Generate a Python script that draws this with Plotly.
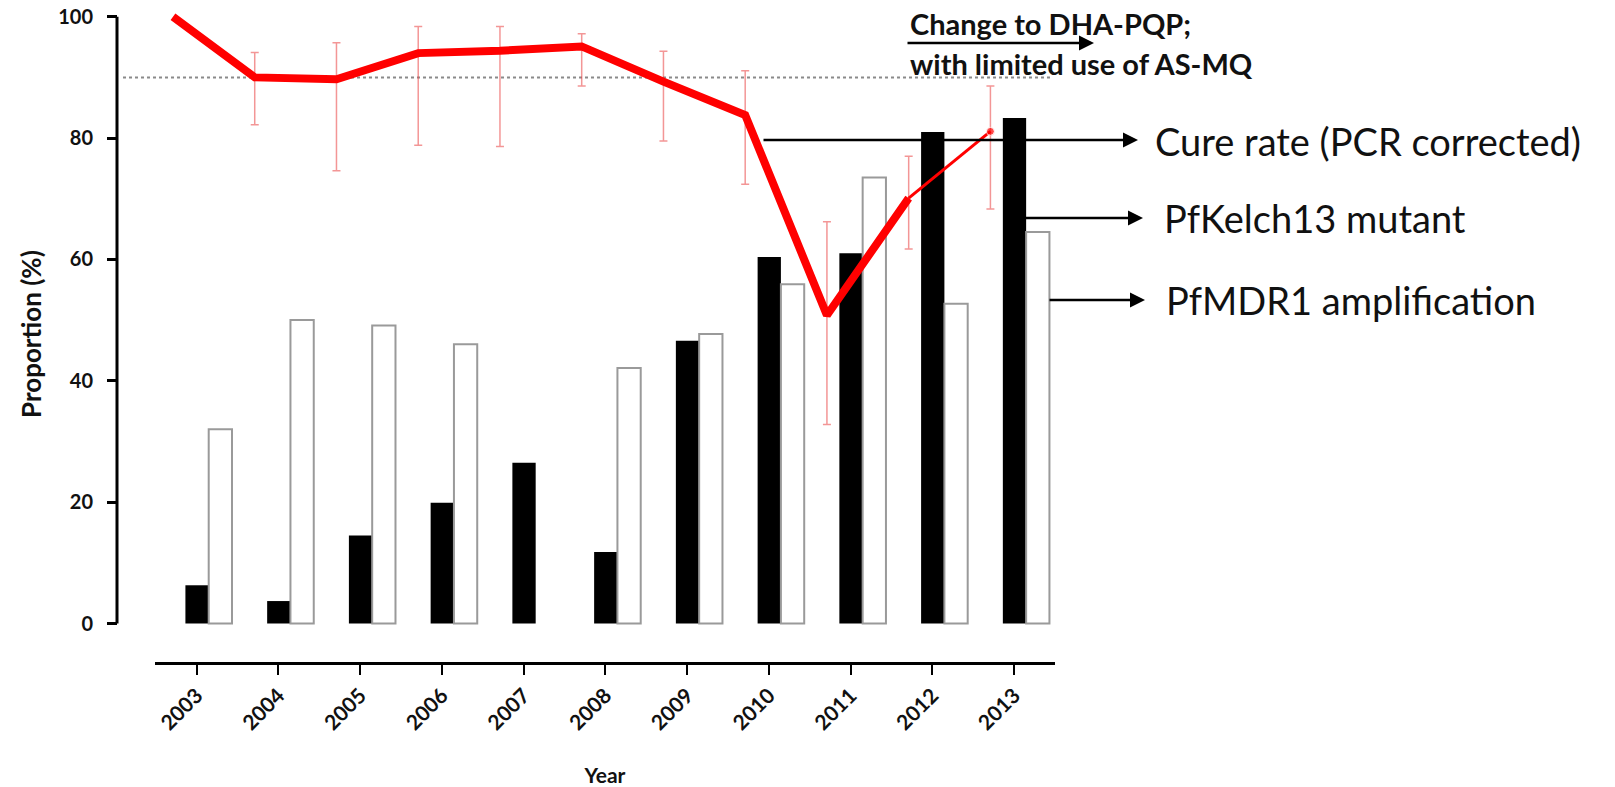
import plotly.graph_objects as go

# ---------------- data ----------------
years = [2003, 2004, 2005, 2006, 2007, 2008, 2009, 2010, 2011, 2012, 2013]
year_labels = [str(y) for y in years]

kelch13_mutant = [6.3, 3.7, 14.5, 19.9, 26.5, 11.8, 46.6, 60.4, 61.0, 81.0, 83.3]
mdr1_amplification = [32.0, 50.0, 49.1, 46.0, None, 42.1, 47.7, 55.9, 73.5, 52.7, 64.5]

cure_rate = [100.0, 90.0, 89.7, 94.0, 94.4, 95.1, 89.3, 83.8, 50.8, 70.1, 81.1]
cure_ci_low = [None, 82.2, 74.6, 78.8, 78.6, 88.6, 79.5, 72.4, 32.8, 61.7, 68.3]
cure_ci_high = [None, 94.1, 95.7, 98.4, 98.4, 97.2, 94.3, 91.1, 66.2, 77.0, 88.6]

threshold = 90
y_ticks = [0, 20, 40, 60, 80, 100]

# ---------------- geometry (page pixels -> paper) ----------------
W, H = 1615, 787
L = 117                      # y axis at x=117
PLOT_BOTTOM = 662            # x axis line at y=662
T = 4
R = W - 1055                 # x axis ends at x=1055
B = H - PLOT_BOTTOM
PW, PH = W - L - R, H - T - B


def px(xp):
    return (xp - L) / PW


def py(yp):
    return (PLOT_BOTTOM - yp) / PH


y0_px, y100_px = 623.5, 16.7
unit = (y0_px - y100_px) / 100.0
y_top = (y0_px - T) / unit
y_bot = -(PLOT_BOTTOM - y0_px) / unit

x_range = [2002.49, 2013.50]
line_shift = 0.29          # cure-rate line drawn slightly left of ticks
bar_w = 0.285
bar_center_shift = 0.147   # bar pairs drawn slightly right of ticks

FONT = "Lato"
INK = "#111111"

fig = go.Figure()

fig.add_trace(go.Bar(
    x=years, y=kelch13_mutant, name="PfKelch13 mutant",
    width=bar_w, offset=bar_center_shift - bar_w,
    marker=dict(color="black", line=dict(color="black", width=0)),
    xaxis="x", yaxis="y",
))
fig.add_trace(go.Bar(
    x=years, y=mdr1_amplification, name="PfMDR1 amplification",
    width=bar_w, offset=bar_center_shift,
    marker=dict(color="white", line=dict(color="#9a9a9a", width=2)),
    xaxis="x", yaxis="y",
))

# error bars (95% CI) for cure rate
err_plus = [None if h is None else h - c for h, c in zip(cure_ci_high, cure_rate)]
err_minus = [None if l is None else c - l for l, c in zip(cure_ci_low, cure_rate)]
fig.add_trace(go.Scatter(
    x=years[1:], y=cure_rate[1:], mode="markers",
    marker=dict(size=1, color="rgba(0,0,0,0)"),
    error_y=dict(type="data", symmetric=False, array=err_plus[1:], arrayminus=err_minus[1:],
                 color="rgba(235,80,80,0.6)", thickness=1.5, width=4),
    xaxis="x2", yaxis="y", hoverinfo="skip",
))

# cure rate line: thick up to 2012, thin for the last segment
fig.add_trace(go.Scatter(
    x=years[:10], y=cure_rate[:10], mode="lines", name="Cure rate (PCR corrected)",
    line=dict(color="#ff0000", width=8), xaxis="x2", yaxis="y",
))
fig.add_trace(go.Scatter(
    x=years[9:], y=cure_rate[9:], mode="lines+markers",
    line=dict(color="#ff0000", width=3), marker=dict(size=[0, 8], color="#ff0000"),
    xaxis="x2", yaxis="y",
))

x_dom = [px(155), 1.0]

fig.update_layout(
    width=W, height=H, template="none",
    margin=dict(l=L, r=R, t=T, b=B, pad=0),
    paper_bgcolor="white", plot_bgcolor="white",
    showlegend=False,
    font=dict(family=FONT, color=INK),
    xaxis=dict(
        domain=x_dom, range=x_range, anchor="y", showgrid=False, zeroline=False, automargin=False,
        showline=True, linecolor="black", linewidth=3,
        ticks="outside", ticklen=10, tickwidth=2, tickcolor="black",
        tickmode="array", tickvals=years, ticktext=year_labels, tickangle=-45,
        ticklabelstandoff=0, ticklabeloverflow="allow",
        tickfont=dict(family=FONT, size=21, color=INK, weight="bold"),
        title=dict(text="<b>Year</b>", font=dict(family=FONT, size=21, color=INK), standoff=35),
    ),
    xaxis2=dict(domain=x_dom, range=[x_range[0] + line_shift, x_range[1] + line_shift],
                overlaying="x", anchor="y", visible=False, showgrid=False, zeroline=False),
    yaxis=dict(
        domain=[0, 1], range=[y_bot, y_top], anchor="free", position=0,
        showgrid=False, zeroline=False, showline=False, automargin=False,
        ticks="outside", ticklen=10, tickwidth=3, tickcolor="black",
        tickmode="array", tickvals=y_ticks, ticktext=[str(v) for v in y_ticks],
        ticklabelstandoff=10, ticklabeloverflow="allow",
        tickfont=dict(family=FONT, size=20, color=INK, weight="bold"),
    ),
)

# y axis title
fig.add_annotation(x=px(31), y=py(334), xref="paper", yref="paper", text="<b>Proportion (%)</b>",
                   textangle=-90, showarrow=False, xanchor="center", yanchor="middle",
                   font=dict(family=FONT, size=26, color=INK))

# y axis line (0..100 only) and 90% reference line
fig.add_shape(type="line", xref="paper", yref="y", x0=0, x1=0, y0=0, y1=100,
              line=dict(color="black", width=3))
fig.add_shape(type="line", xref="paper", yref="y", x0=px(123), x1=px(1052), y0=threshold, y1=threshold,
              line=dict(color="#8a8a8a", width=2, dash="dot"), layer="below")

# annotations
txt_font = dict(family=FONT, size=38, color=INK)
bold_font = dict(family=FONT, size=29, color=INK)
fig.add_annotation(x=px(908), y=py(23), xref="paper", yref="paper", text="<b>Change to DHA-PQP;</b>",
                   showarrow=False, xanchor="left", yanchor="middle", font=bold_font)
fig.add_annotation(x=px(908), y=py(63), xref="paper", yref="paper", text="<b>with limited use of AS-MQ</b>",
                   showarrow=False, xanchor="left", yanchor="middle", font=bold_font)
fig.add_annotation(x=px(1153), y=py(141), xref="paper", yref="paper", text="Cure rate (PCR corrected)",
                   showarrow=False, xanchor="left", yanchor="middle", font=txt_font)
fig.add_annotation(x=px(1162), y=py(218), xref="paper", yref="paper", text="PfKelch13 mutant",
                   showarrow=False, xanchor="left", yanchor="middle", font=txt_font)
fig.add_annotation(x=px(1164), y=py(300), xref="paper", yref="paper", text="PfMDR1 amplification",
                   showarrow=False, xanchor="left", yanchor="middle", font=txt_font)

arrows = [(906, 1094, 43), (762, 1138, 140), (1023, 1143, 218), (1048, 1145, 300)]
for x_tail, x_head, yy in arrows:
    fig.add_annotation(x=px(x_head), y=py(yy), xref="paper", yref="paper", text="",
                       showarrow=True, ax=x_tail - x_head, ay=0, arrowhead=2, arrowsize=1.2,
                       arrowwidth=2.5, arrowcolor="black", standoff=0, startstandoff=0)

# remove the default page margin so the figure fills the window exactly
fig.write_html("out.html", config={"displayModeBar": False},
               post_script="document.body.style.margin='0';")
